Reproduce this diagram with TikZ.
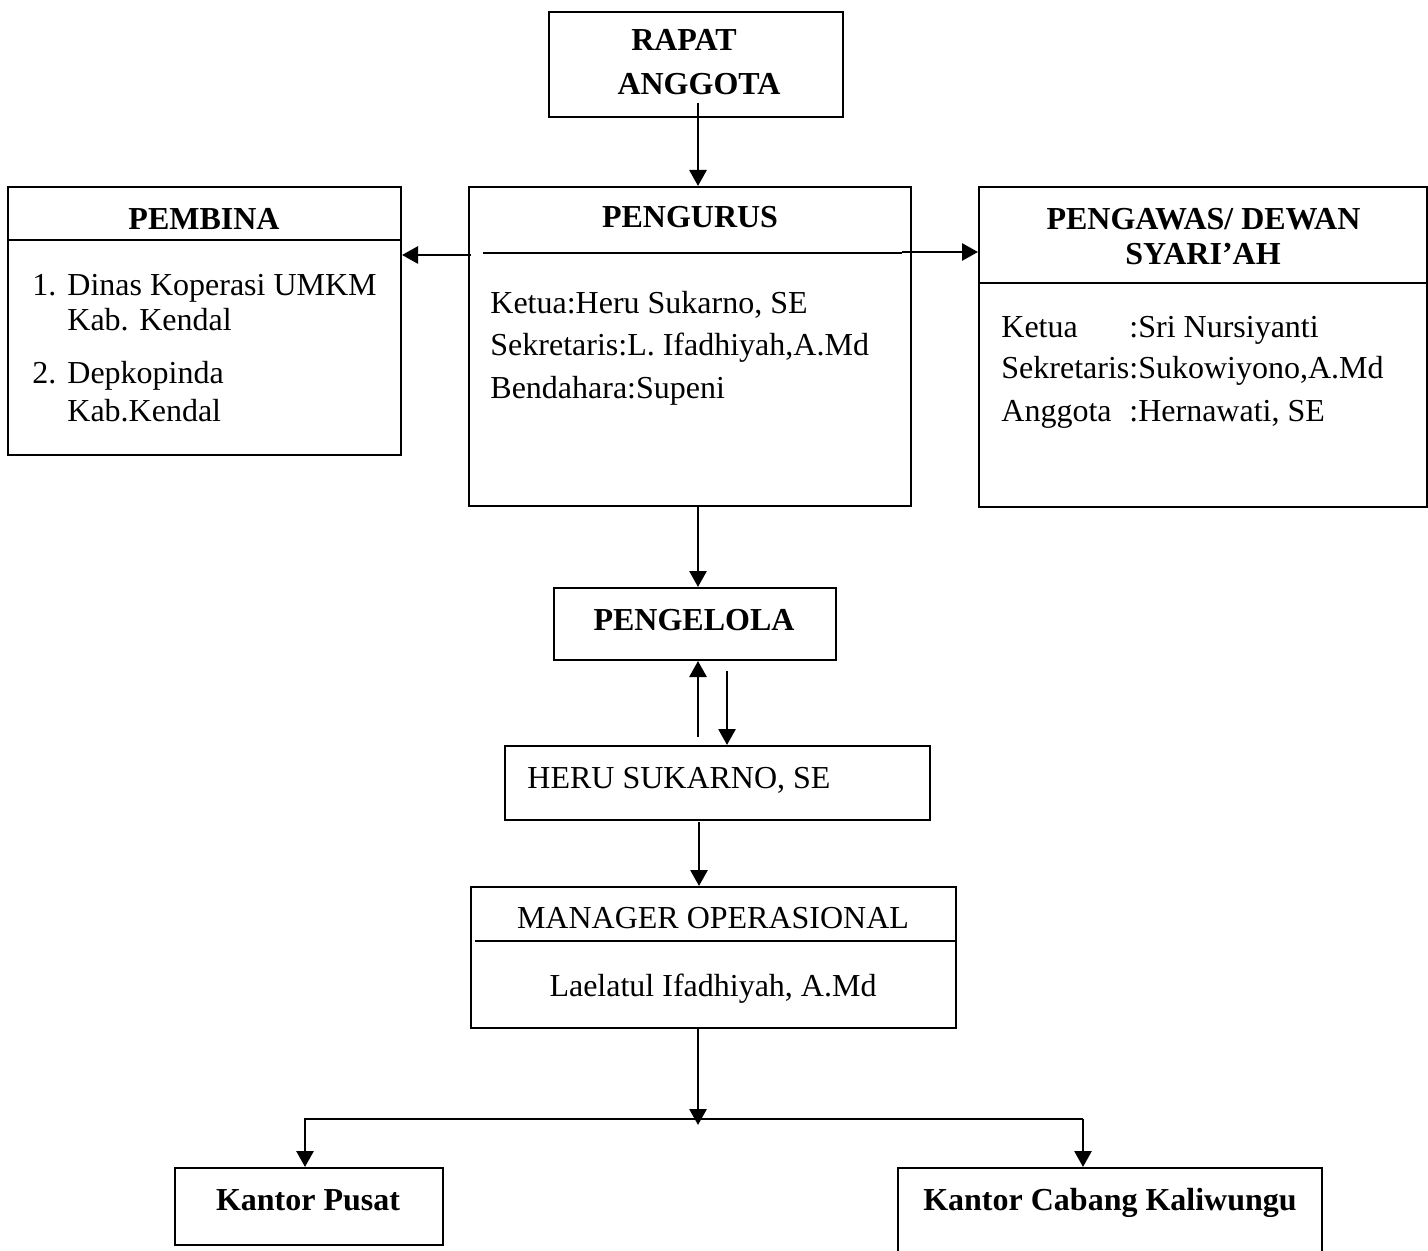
\documentclass[tikz,border=0pt]{standalone}
\usepackage{fontspec}
\setmainfont{Liberation Serif}
\usetikzlibrary{arrows.meta}
\tikzset{
  box/.style={draw, line width=1pt, inner sep=0pt},
  txt/.style={inner sep=0pt, anchor=base, font=\fontsize{16}{21}\selectfont},
  ttl/.style={txt, font=\fontsize{16}{21}\selectfont\bfseries},
  lft/.style={txt, anchor=base west},
  sep/.style={line width=1pt},
  arr/.style={-{Triangle[width=8.5pt,length=8pt]}, line width=1.4pt},
}
\begin{document}
\begin{tikzpicture}[x=0.5pt,y=0.5pt]
  \clip (0,0) rectangle (1428,1250);
  % boxes
  \node[box, minimum width=147pt, minimum height=52.5pt] (rapat) at (696,1185.5) {};
  \node[box, minimum width=196.5pt, minimum height=134pt] (pembina) at (204.5,929) {};
  \node[box, minimum width=221pt, minimum height=159.5pt] (pengurus) at (690,903.5) {};
  \node[box, minimum width=224pt, minimum height=160pt] (pengawas) at (1203,903) {};
  \node[box, minimum width=141pt, minimum height=36pt] (pengelola) at (695,626) {};
  \node[box, minimum width=212.5pt, minimum height=37pt] (heru) at (717.5,467) {};
  \node[box, minimum width=242.5pt, minimum height=70.5pt] (manager) at (713.5,292.5) {};
  \node[box, minimum width=134pt, minimum height=38.5pt] (pusat) at (309,43.5) {};
  \node[box, minimum width=212pt, minimum height=61pt] (cabang) at (1110,21) {};
  % dividers
  \draw[sep] (8,1010) -- (401,1010);
  \draw[sep] (483,997) -- (902,997);
  \draw[sep] (979,967) -- (1427,967);
  \draw[sep] (475,309) -- (956,309);
  % titles
  \node[ttl] (rapatA) at (684,1199) {RAPAT};
  \node[ttl] (rapatB) at (699,1155) {ANGGOTA};
  \node[ttl] (pembinaT) at (204,1020) {PEMBINA};
  \node[ttl] (pengurusT) at (690,1022) {PENGURUS};
  \node[ttl] (pengawasA) at (1203.5,1020) {PENGAWAS/ DEWAN};
  \node[ttl] (pengawasB) at (1203,985) {SYARI’AH};
  \node[ttl] (pengelolaT) at (694,620) {PENGELOLA};
  \node[ttl] (pusatT) at (308,40) {Kantor Pusat};
  \node[ttl] (cabangT) at (1110,40) {Kantor Cabang Kaliwungu};
  % pembina list
  \node[lft] (pb1) at (32,954) {1.};
  \node[lft] (pb1a) at (67,954) {Dinas Koperasi UMKM};
  \node[lft] (pb1b) at (67,919) {Kab. Kendal};
  \node[lft] (pb2) at (32,866) {2.};
  \node[lft] (pb2a) at (67,866) {Depkopinda};
  \node[lft] (pb2b) at (67,829) {Kab.Kendal};
  % pengurus
  \node[lft] (pg1) at (490,936) {Ketua:Heru Sukarno, SE};
  \node[lft] (pg2) at (490,894) {Sekretaris:L. Ifadhiyah,A.Md};
  \node[lft] (pg3) at (490,852) {Bendahara:Supeni};
  % pengawas
  \node[lft] (pw1) at (1001,912) {Ketua};
  \node[lft] (pw1v) at (1129,912) {:Sri Nursiyanti};
  \node[lft] (pw2) at (1001,871) {Sekretaris};
  \node[lft] (pw2v) at (1129,871) {:Sukowiyono,A.Md};
  \node[lft] (pw3) at (1001,829) {Anggota};
  \node[lft] (pw3v) at (1129,829) {:Hernawati, SE};
  % others
  \node[lft] (heruT) at (527,462) {HERU SUKARNO, SE};
  \node[txt] (managerT) at (713,322) {MANAGER OPERASIONAL};
  \node[txt] (managerN) at (713,254) {Laelatul Ifadhiyah, A.Md};
  % connectors
  \coordinate (a1) at (698,1147);
  \coordinate (a2) at (471,995);
  \coordinate (a3) at (902,998);
  \coordinate (a4) at (698,744);
  \coordinate (a5) at (698,513);
  \coordinate (a6) at (727,579);
  \coordinate (a7) at (699,428);
  \coordinate (a8) at (698,222);
  \coordinate (bm) at (698,125);
  \coordinate (bl) at (305,131);
  \coordinate (br) at (1083,131);
  \draw[arr] (a1) -- (a1 |- pengurus.north);
  \draw[arr] (a2) -- (a2 -| pembina.east);
  \draw[arr] (a3) -- (a3 -| pengawas.west);
  \draw[arr] (a4) -- (a4 |- pengelola.north);
  \draw[arr] (a5) -- (a5 |- pengelola.south);
  \draw[arr] (a6) -- (a6 |- heru.north);
  \draw[arr] (a7) -- (a7 |- manager.north);
  \draw[arr] (a8) -- (bm);
  \draw[arr] (br) -- (bl) -- (bl |- pusat.north);
  \draw[arr] (br) -- (br |- cabang.north);
\end{tikzpicture}
\end{document}
